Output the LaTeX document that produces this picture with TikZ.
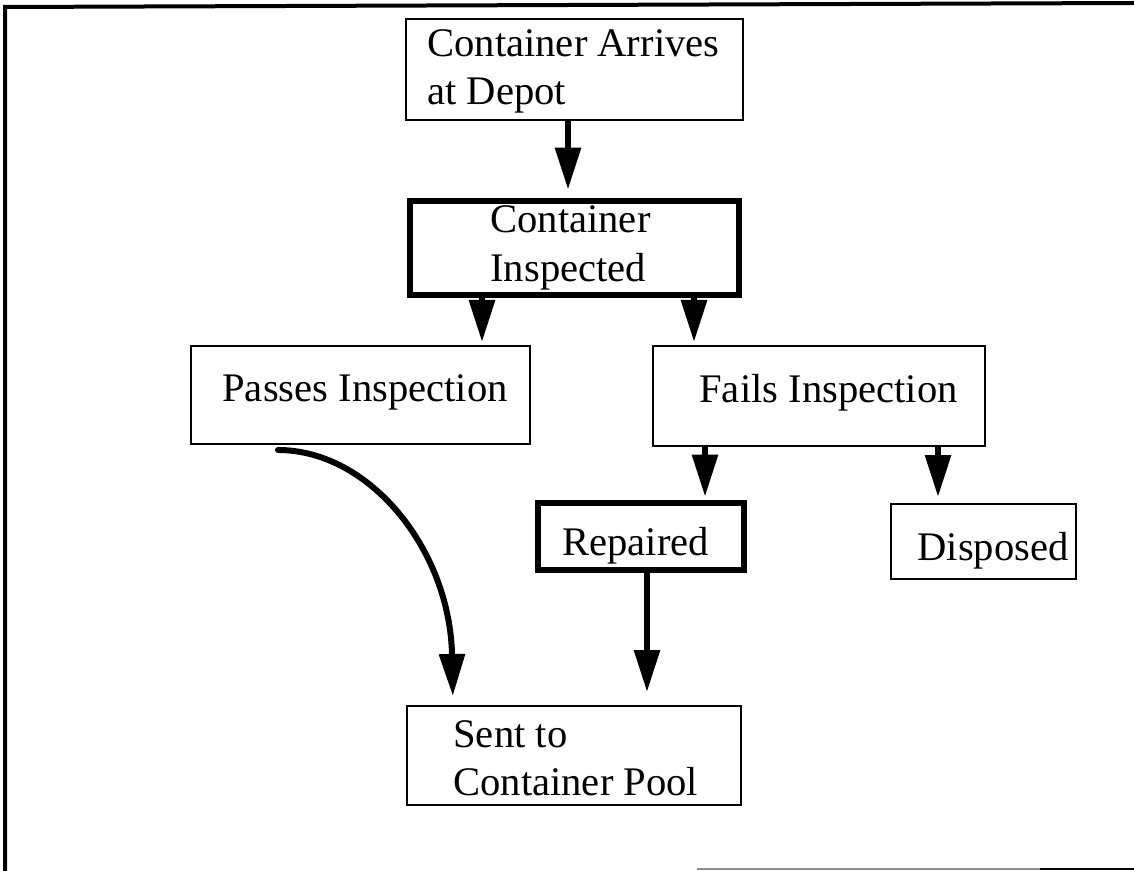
\documentclass[tikz,border=0pt]{standalone}
\usepackage{fontspec}
\setmainfont{Liberation Serif}
\usetikzlibrary{arrows.meta}
\tikzset{
  box/.style={draw, line width=1pt, inner sep=0pt},
  thickbox/.style={draw, line width=3.4pt, inner sep=0pt},
  txt/.style={inner sep=0pt, anchor=base west, font=\fontsize{20.3}{24}\selectfont},
  flow/.style={line width=3pt, -{Triangle[length=21pt,width=12.5pt]}},
  frameline/.style={line width=2pt, line join=miter}
}
\begin{document}
\begin{tikzpicture}[x=0.5pt, y=-0.5pt]
\useasboundingbox (0,0) rectangle (1134,871);
% outer frame (partial, as scanned)
\draw[frameline] (5,871) -- (5,7) -- (1134,3);
\draw[line width=1pt, black!45] (697,869) -- (1040,869);
\draw[line width=1pt] (1040,869) -- (1134,869);

% boxes
\node[box, minimum width=168.5pt, minimum height=50.5pt] (arr) at (574.5,69.5) {};
\node[thickbox, minimum width=164.5pt, minimum height=47pt] (insp) at (574.5,248) {};
\node[box, minimum width=169.5pt, minimum height=49pt] (pass) at (360.5,395) {};
\node[box, minimum width=166pt, minimum height=50pt] (fail) at (819,396) {};
\node[thickbox, minimum width=103pt, minimum height=33.5pt] (rep) at (641,536.5) {};
\node[box, minimum width=92.5pt, minimum height=37.5pt] (disp) at (983.5,541.5) {};
\node[box, minimum width=167pt, minimum height=49.5pt] (sent) at (574,755.5) {};

% texts
\node[txt] (arrA) at (427,57) {Container Arrives};
\node[txt] (arrB) at (427,105) {at Depot};
\node[txt] (inspA) at (490,233) {Container};
\node[txt] (inspB) at (490,282) {Inspected};
\node[txt] (passT) at (222,401) {Passes Inspection};
\node[txt] (failT) at (699,402) {Fails Inspection};
\node[txt] (repT) at (562,555) {Repaired};
\node[txt] (dispT) at (917,560) {Disposed};
\node[txt] (sentA) at (453,747) {Sent to};
\node[txt] (sentB) at (453,795) {Container Pool};

% x positions of connectors
\coordinate (xa) at (568,0);
\coordinate (xb) at (482,0);
\coordinate (xc) at (694,0);
\coordinate (xd) at (705,0);
\coordinate (xe) at (938,0);
\coordinate (xf) at (647,0);
\coordinate (xg) at (453,0);
\coordinate (cs) at (278,450);

% connectors
\draw[flow, shorten >=4pt] (arr.south -| xa) -- (insp.north -| xa);
\draw[flow, shorten >=1.5pt] (insp.south -| xb) -- (pass.north -| xb);
\draw[flow, shorten >=1.5pt] (insp.south -| xc) -- (fail.north -| xc);
\draw[flow, shorten >=1.5pt] (fail.south -| xd) -- (rep.north -| xd);
\draw[flow, shorten >=3pt] (fail.south -| xe) -- (disp.north -| xe);
\draw[flow, shorten >=6.5pt] (rep.south -| xf) -- (sent.north -| xf);
\draw[flow, line cap=round, shorten >=4.5pt] (cs) .. controls (370,450) and (450,550) .. (sent.north -| xg);
\end{tikzpicture}
\end{document}
